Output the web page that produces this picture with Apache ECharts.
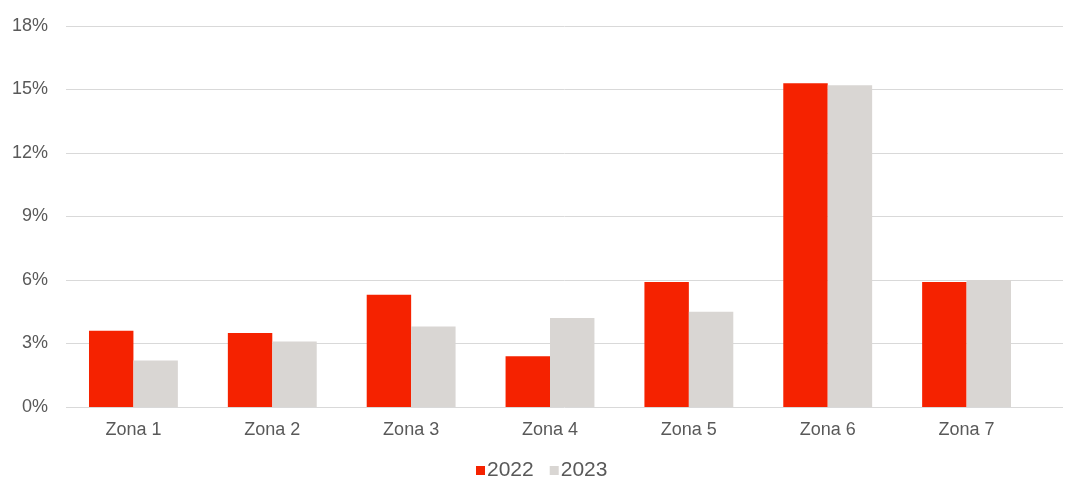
<!DOCTYPE html>
<html>
<head>
<meta charset="utf-8">
<script src="https://cdn.jsdelivr.net/npm/echarts@6/dist/echarts.min.js"></script>
<style>
  html, body { margin: 0; padding: 0; background: #fff; }
  #chart { width: 1065px; height: 479px; }
</style>
</head>
<body>
<div id="chart"></div>
<script>
// categories and values (percent)
const zonas = ["Zona 1", "Zona 2", "Zona 3", "Zona 4", "Zona 5", "Zona 6", "Zona 7"];
const serie2022 = [3.6, 3.5, 5.3, 2.4, 5.9, 15.3, 5.9];
const serie2023 = [2.2, 3.1, 3.8, 4.2, 4.5, 15.2, 6.0];
const yMax = 18;
const yStep = 3;

const textColor = "#595959";
const lineColor = "#d9d9d9";
const font = "Liberation Sans, Arial, sans-serif";

const chart = echarts.init(document.getElementById("chart"));

chart.setOption({
    animation: false,
    textStyle: { fontFamily: font },
    legend: {
        data: ["2022", "2023"],
        top: 455,
        left: 471,
        icon: "rect",
        itemWidth: 9,
        itemHeight: 9,
        itemGap: 16,
        textStyle: { fontSize: 21, color: textColor, fontFamily: font, padding: [0, 0, 0, -3] },
    },
    grid: [
        // bars
        { left: 64, right: 29, top: 26, bottom: 72 },
        // gridlines only, a bit wider like the original
        { left: 66, right: 2, top: 26, bottom: 72 },
    ],
    xAxis: [
        {
            type: "category",
            gridIndex: 0,
            data: zonas,
            axisLine: { show: false },
            axisTick: { show: false },
            axisLabel: { fontSize: 18, color: textColor, margin: 14 },
        },
        {
            type: "category",
            gridIndex: 1,
            data: zonas,
            show: false,
        },
    ],
    yAxis: [
        {
            type: "value",
            gridIndex: 0,
            min: 0,
            max: yMax,
            interval: yStep,
            axisLabel: { fontSize: 18, color: textColor, margin: 16, formatter: "{value}%" },
            splitLine: { show: false },
            axisLine: { show: false },
        },
        {
            type: "value",
            gridIndex: 1,
            min: 0,
            max: yMax,
            interval: yStep,
            axisLabel: { show: false },
            splitLine: { show: true, lineStyle: { color: lineColor, width: 1 } },
            axisLine: { show: false },
        },
    ],
    series: [
        {
            name: "2022",
            type: "bar",
            xAxisIndex: 0,
            yAxisIndex: 0,
            data: serie2022,
            barGap: "0%",
            barCategoryGap: "36%",
            itemStyle: { color: "#f52200" },
            z: 3,
        },
        {
            name: "2023",
            type: "bar",
            xAxisIndex: 0,
            yAxisIndex: 0,
            data: serie2023,
            barGap: "0%",
            barCategoryGap: "36%",
            itemStyle: { color: "#d9d6d3" },
            z: 3,
        },
    ],
});

window.addEventListener("resize", () => chart.resize());
</script>
</body>
</html>
